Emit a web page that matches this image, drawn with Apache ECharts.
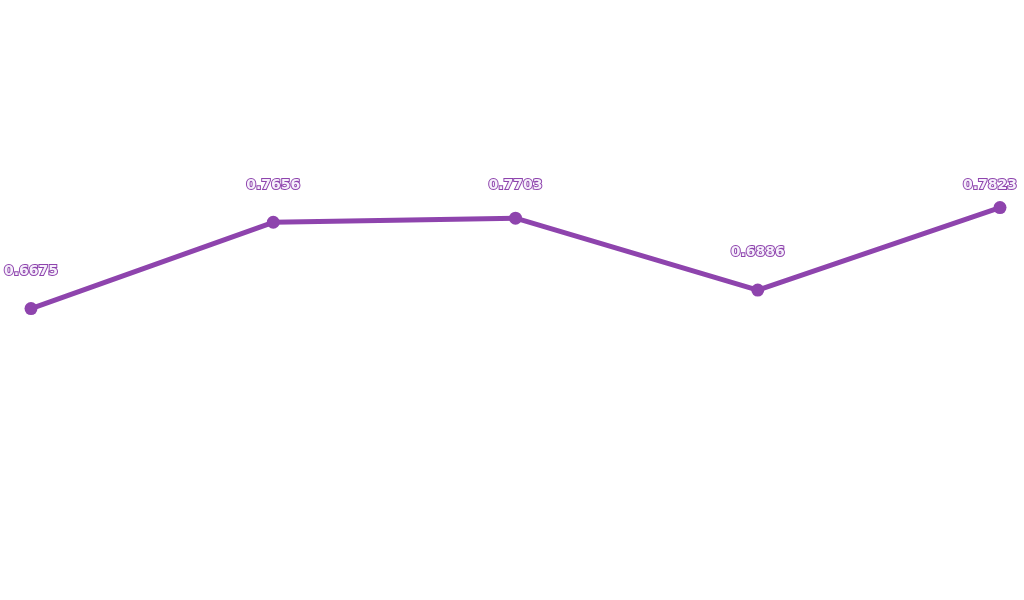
<!DOCTYPE html>
<html>
<head>
<meta charset="utf-8">
<script src="https://cdn.jsdelivr.net/npm/echarts@6/dist/echarts.min.js"></script>
<style>html,body{margin:0;padding:0;background:#fff}#c{width:1024px;height:600px}</style>
</head>
<body>
<div id="c"></div>
<script>
const categories = ['1', '2', '3', '4', '5'];
const values = [0.6675, 0.7656, 0.7703, 0.6886, 0.7823];
const lineColor = '#8e44ad';

const chart = echarts.init(document.getElementById('c'));
chart.setOption({
  animation: false,
  grid: { left: 31, right: 24, top: 16, height: 440 },
  xAxis: { type: 'category', data: categories, boundaryGap: false, show: false },
  yAxis: { type: 'value', min: 0.5, max: 1, show: false },
  series: [{
    type: 'line',
    data: values,
    symbol: 'circle',
    symbolSize: 13,
    lineStyle: { width: 5, color: lineColor },
    itemStyle: { color: lineColor },
    label: {
      show: true,
      position: 'top',
      distance: 24,
      fontFamily: 'DejaVu Sans',
      fontSize: 14,
      fontWeight: 'bold',
      color: '#f6f0fb',
      textBorderColor: lineColor,
      textBorderWidth: 2
    },
    labelLayout: function (p) {
      const r = p.labelRect;
      const cx = Math.min(r.x + r.width / 2, 1018 - r.width / 2);
      const cy = Math.max(r.y + r.height / 2, 185);
      return { x: cx, y: cy, align: 'center', verticalAlign: 'middle' };
    }
  }]
});
</script>
</body>
</html>
